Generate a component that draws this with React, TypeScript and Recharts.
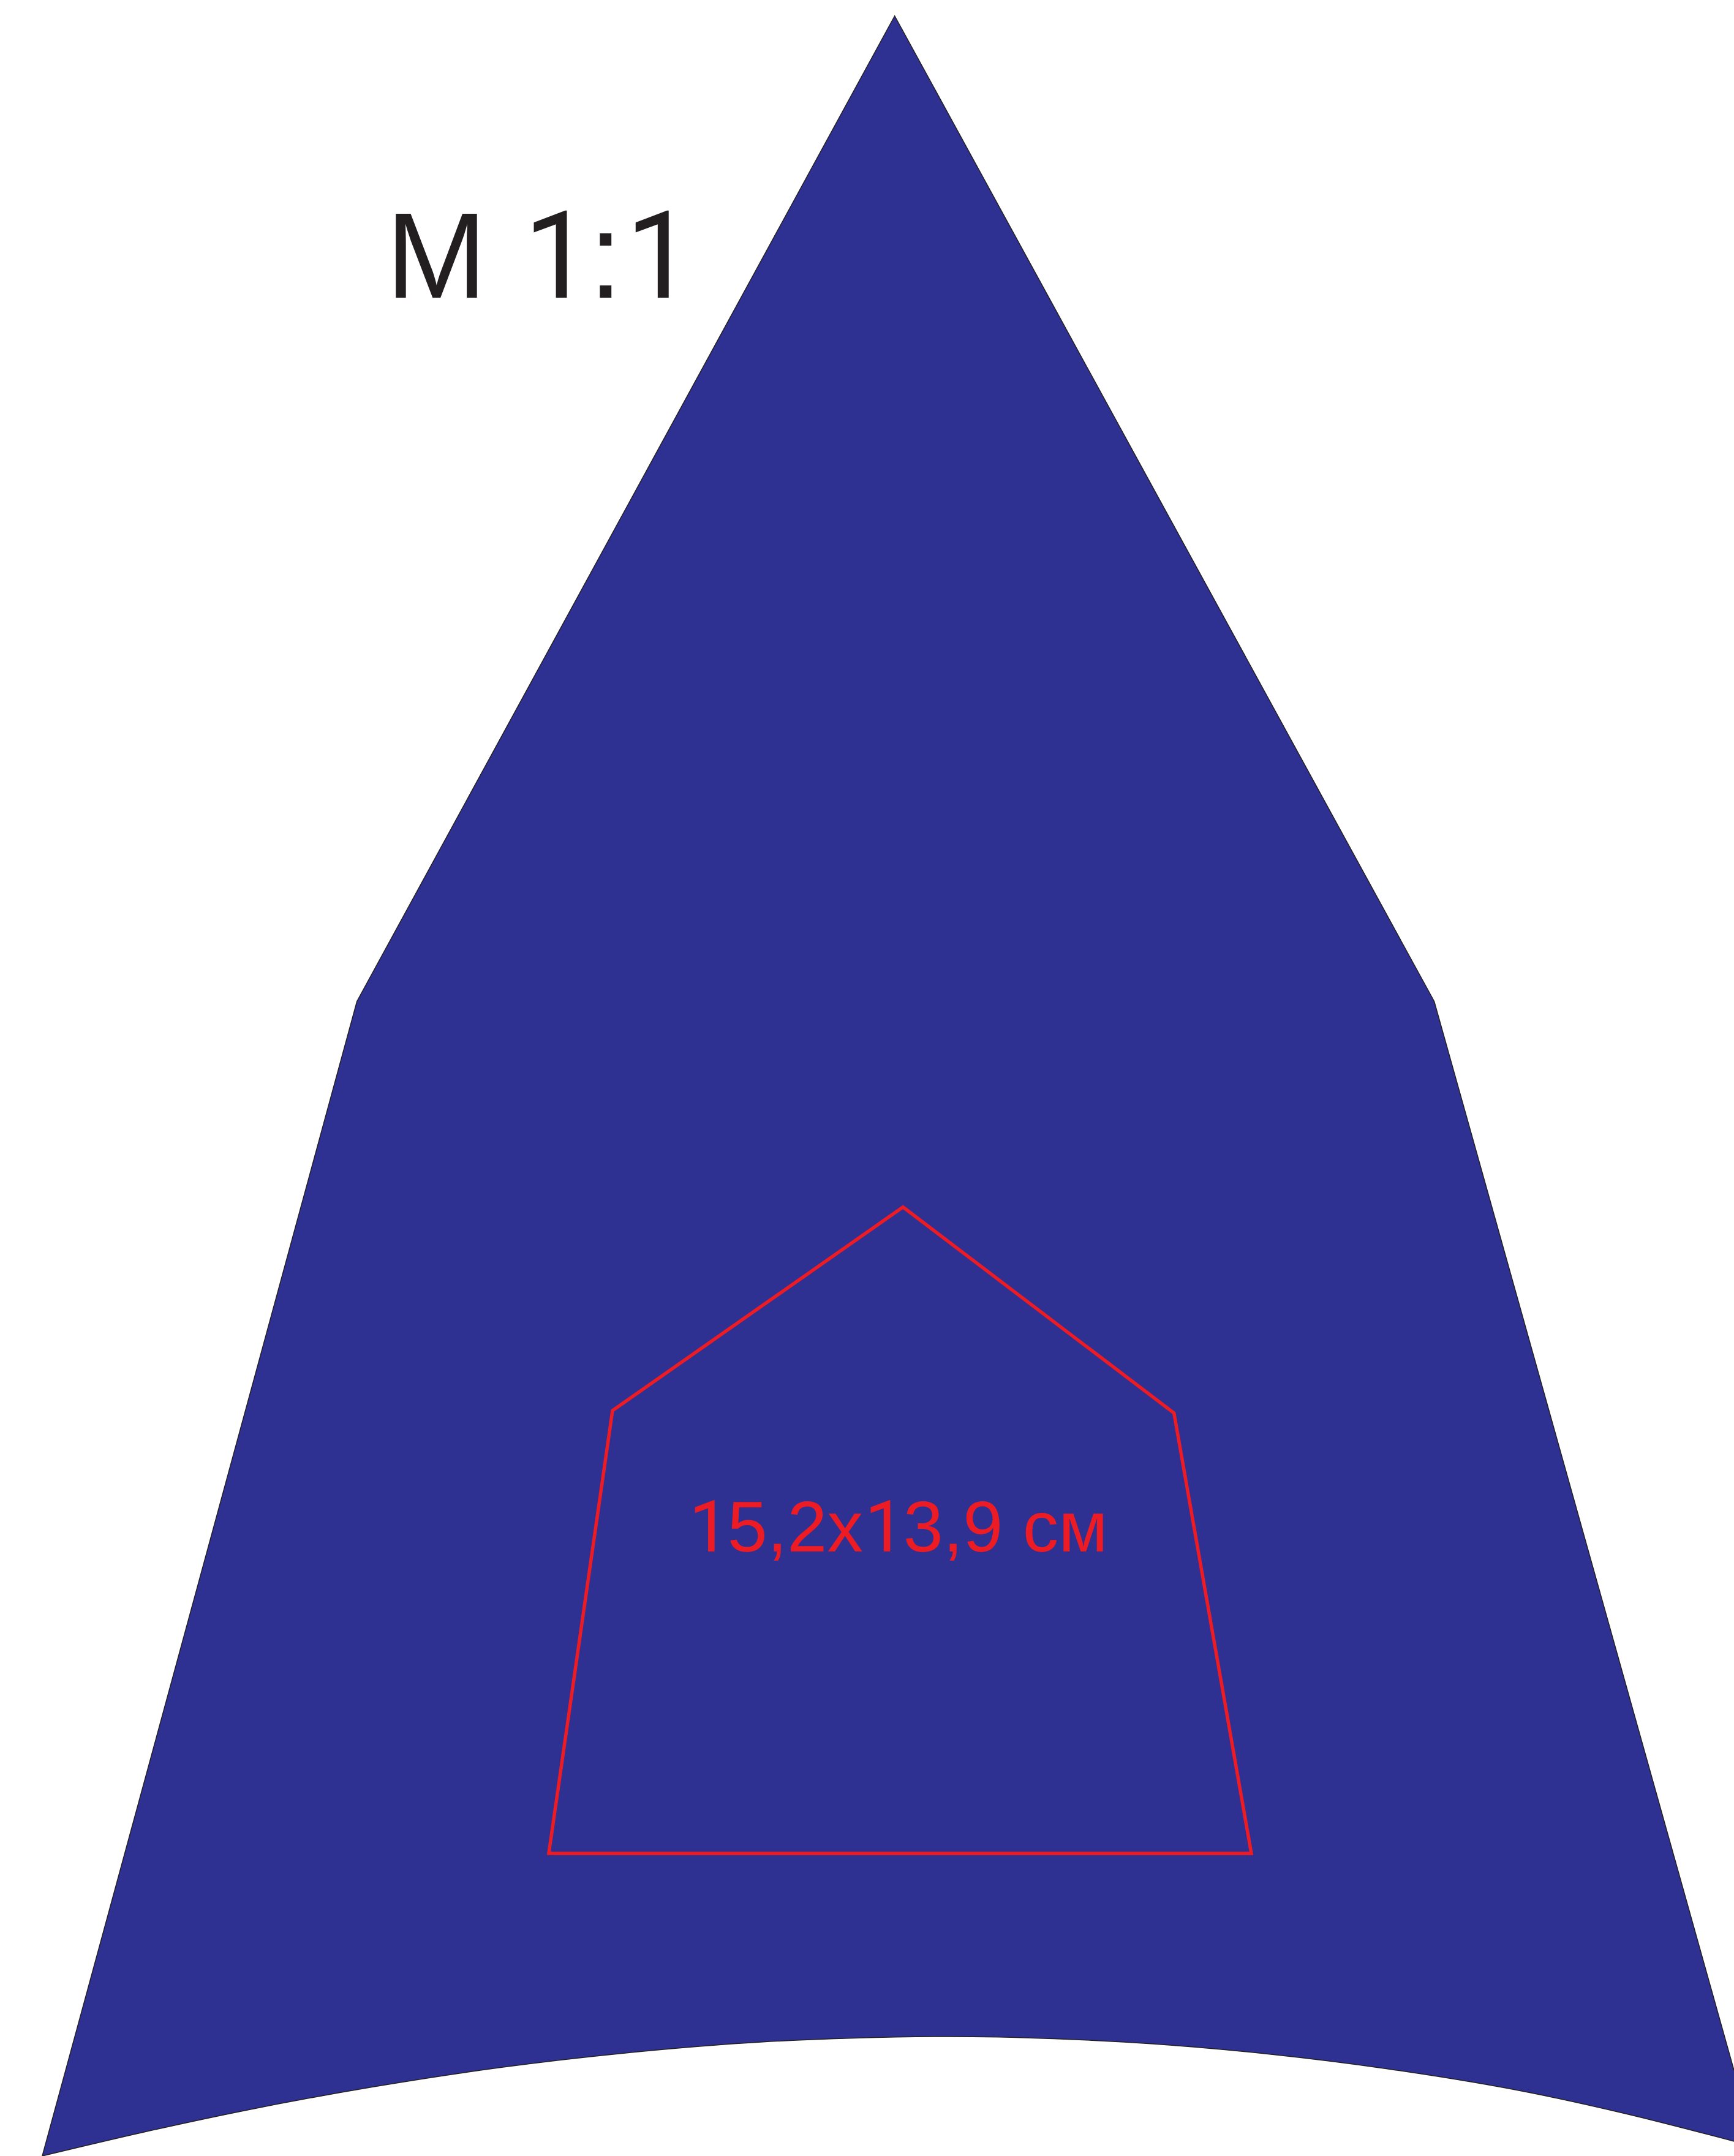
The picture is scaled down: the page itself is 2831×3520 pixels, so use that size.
import { ComposedChart, Area, Scatter, XAxis, YAxis, ReferenceDot } from 'recharts';

const WIDTH = 2831;
const HEIGHT = 3520;
const BLUE = '#2e3192';
const RED = '#ed1c24';
const INK = '#231f20';

// contour of the blue cut-out, picture units
const outlineX = [69, 582.7, 1460.7, 2341.6, 2831];
const outlineY = [3520, 1635, 26, 1635, 3380];

// curved lower edge
const arcX = [69, 235, 400, 610, 821, 1030, 1242, 1395, 1549, 1720, 1883, 2075, 2265, 2500, 2650, 2831];
const arcY = [3520, 3481, 3445.7, 3407, 3375, 3351, 3334, 3327.5, 3325, 3328.5, 3337, 3354, 3377.7, 3417, 3450, 3496];

// red outline, closed
const pentagonX = [896, 1000, 1474.3, 1916.7, 2043, 896];
const pentagonY = [3026, 2303, 1970.7, 2307, 3026, 3026];

const scaleLabel = 'M 1:1';
const sizeLabel = '15,2x13,9 см';

const pentagon = pentagonX.map((x, i) => ({ x, y: pentagonY[i] }));
const outlineRows = outlineX.map((x, i) => ({ x, outline: outlineY[i] }));
const arcRows = arcX.map((x, i) => ({ x, arc: arcY[i] }));

// Liberation's "1" has a foot the original lettering doesn't, so that one glyph comes from Roboto
function lettering(value: string, fontSize: number, fill: string) {
  const nudge = fontSize * 0.025;
  return ({ viewBox }: any) => (
    <text x={viewBox.x} y={viewBox.y} fontFamily="Liberation Sans" fontSize={fontSize} fill={fill} xmlSpace="preserve">
      {value.split(/(1)/).map((part, i, all) => (
        <tspan
          key={i}
          fontFamily={part === '1' ? 'Roboto' : undefined}
          dx={part === '1' ? nudge : all[i - 1] === '1' ? -nudge : 0}
        >
          {part}
        </tspan>
      ))}
    </text>
  );
}

export default function App() {
  return (
    <div style={{ position: 'absolute', left: 0, top: 0, width: WIDTH, height: HEIGHT, overflow: 'hidden', background: '#fff' }}>
      <ComposedChart width={WIDTH} height={HEIGHT} margin={{ top: 0, right: 0, bottom: 0, left: 0 }}>
        <XAxis dataKey="x" type="number" domain={[0, WIDTH]} hide allowDataOverflow />
        <YAxis dataKey="y" type="number" domain={[0, HEIGHT]} reversed hide allowDataOverflow />
        <Area
          data={outlineRows}
          dataKey="outline"
          type="linear"
          baseValue={HEIGHT}
          fill={BLUE}
          fillOpacity={1}
          stroke={INK}
          strokeWidth={1.5}
          dot={false}
          activeDot={false}
          isAnimationActive={false}
        />
        <Area
          data={arcRows}
          dataKey="arc"
          type="monotone"
          baseValue={HEIGHT}
          fill="#ffffff"
          fillOpacity={1}
          stroke={INK}
          strokeWidth={1.5}
          dot={false}
          activeDot={false}
          isAnimationActive={false}
        />
        <Scatter
          data={pentagon}
          line={{ stroke: RED, strokeWidth: 5.5, strokeLinecap: 'square' }}
          shape={() => null}
          isAnimationActive={false}
        />
        <ReferenceDot x={630} y={486} r={0} stroke="none" label={{ content: lettering(scaleLabel, 198, INK) }} />
        <ReferenceDot x={1122} y={2532.7} r={0} stroke="none" label={{ content: lettering(sizeLabel, 117, RED) }} />
      </ComposedChart>
    </div>
  );
}
